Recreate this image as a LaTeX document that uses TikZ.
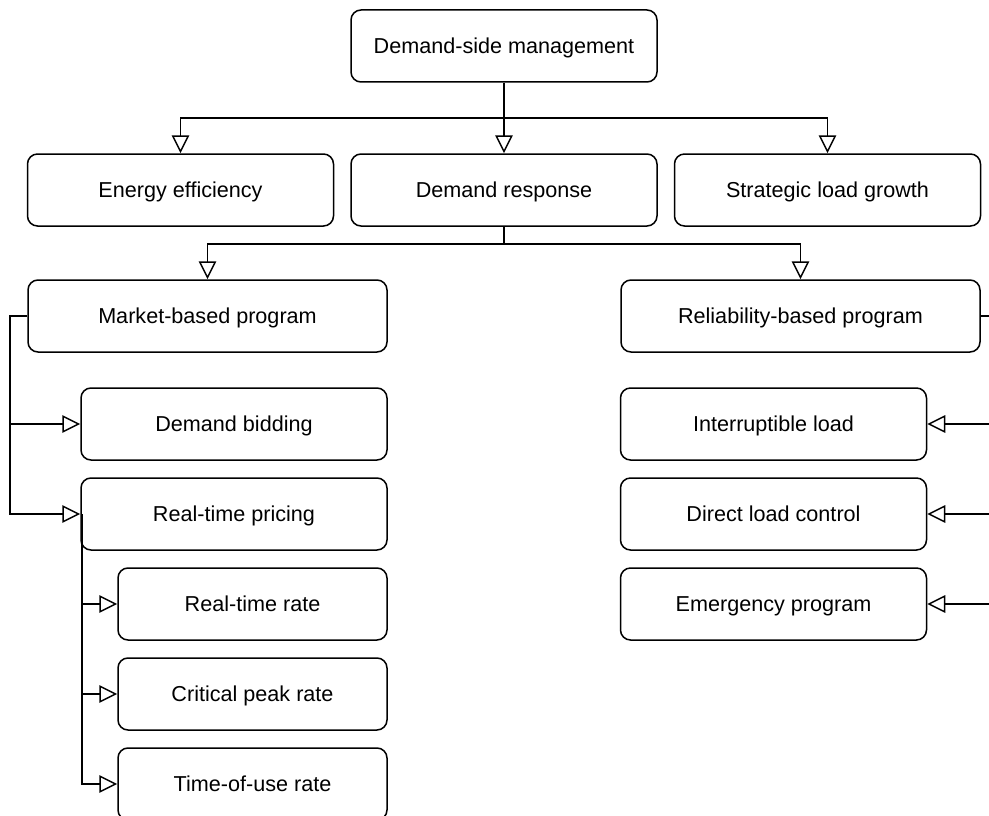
\documentclass[tikz,border=0pt]{standalone}
\usepackage{fontspec}
\setmainfont{Liberation Sans}
\usetikzlibrary{arrows.meta}
\begin{document}
\begin{tikzpicture}[x=1pt, y=-1pt,
  box/.style={draw, rounded corners=10pt, line width=1.5pt, minimum height=72pt,
              inner sep=0pt, text height=15.5pt, text depth=0pt,
              font=\fontsize{21.6}{26}\selectfont, fill=white},
  wbox/.style={box, minimum width=306pt},
  lbox/.style={box, minimum width=359pt},
  sbox/.style={box, minimum width=269pt},
  arr/.style={line width=1.5pt, -{Triangle[open, length=18pt, width=17.5pt, fill=white]}},
  link/.style={line width=1.5pt}]
  \clip (0,0) rectangle (989,816);
  \fill[white] (0,0) rectangle (989,816);

  % top level
  \node[wbox] (dsm) at (504,46) {Demand-side management};
  \node[wbox] (ee)  at (180.5,190) {Energy efficiency};
  \node[wbox] (dr)  at (504,190) {Demand response};
  \node[wbox] (slg) at (827.5,190) {Strategic load growth};

  % demand response programs
  \node[lbox] (mbp) at (207.5,316) {Market-based program};
  \node[lbox] (rbp) at (800.5,316) {Reliability-based program};

  % market-based branch
  \node[wbox] (db)  at (234,424) {Demand bidding};
  \node[wbox] (rtp) at (234,514) {Real-time pricing};
  \node[sbox] (rtr) at (252.5,604) {Real-time rate};
  \node[sbox] (cpr) at (252.5,694) {Critical peak rate};
  \node[sbox] (tou) at (252.5,784) {Time-of-use rate};

  % reliability-based branch
  \node[wbox] (il)  at (773.5,424) {Interruptible load};
  \node[wbox] (dlc) at (773.5,514) {Direct load control};
  \node[wbox] (ep)  at (773.5,604) {Emergency program};

  % junction points and trunk lines
  \coordinate (j1) at (504,118);
  \coordinate (j2) at (504,244);
  \coordinate (lx) at (10,0);
  \coordinate (sx) at (82,0);
  \coordinate (rx) at (1000,0);

  \draw[link] (dsm.south) -- (j1);
  \draw[arr] (j1) -| (ee.north);
  \draw[arr] (j1) -- (dr.north);
  \draw[arr] (j1) -| (slg.north);

  \draw[link] (dr.south) -- (j2);
  \draw[arr] (j2) -| (mbp.north);
  \draw[arr] (j2) -| (rbp.north);

  \draw[arr] (mbp.west) -- (mbp.west -| lx) |- (db.west);
  \draw[arr] (mbp.west -| lx) |- (rtp.west);

  \draw[arr] (rtp.west -| sx) |- (rtr.west);
  \draw[arr] (rtp.west -| sx) |- (cpr.west);
  \draw[arr] (rtp.west -| sx) |- (tou.west);

  \draw[arr] (rbp.east) -- (rbp.east -| rx) |- (il.east);
  \draw[arr] (rbp.east -| rx) |- (dlc.east);
  \draw[arr] (rbp.east -| rx) |- (ep.east);
\end{tikzpicture}
\end{document}
